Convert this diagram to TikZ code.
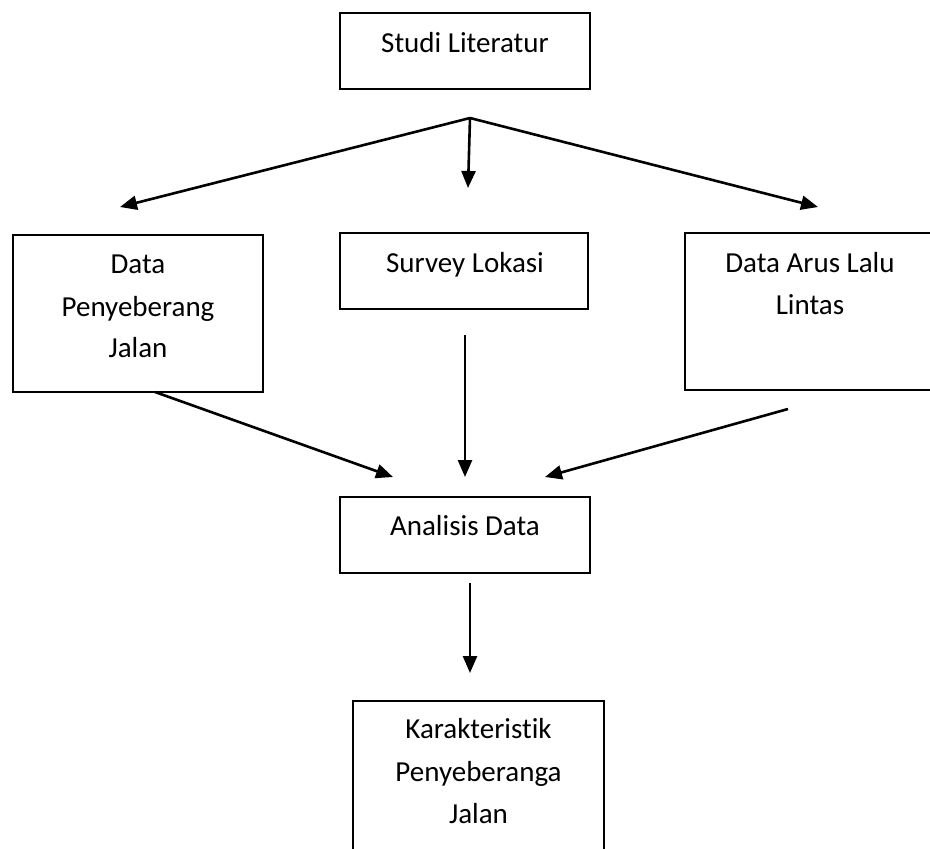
\documentclass[tikz,border=0pt]{standalone}
\usepackage{fontspec}
\setmainfont{Carlito}[Ligatures=NoCommon]
\usetikzlibrary{arrows.meta}
\begin{document}
\begin{tikzpicture}[x=1pt,y=-1pt,
  box/.style={draw=black,line width=1.8pt,rectangle,inner sep=0pt},
  lbl/.style={anchor=base,inner sep=0pt,font=\fontsize{29}{42}\selectfont},
  arr/.style={draw=black,line width=2.6pt,-{Triangle[length=17pt,width=14pt]}}]
\useasboundingbox (0,0) rectangle (930,849);
\fill[white] (0,0) rectangle (930,849);
% boxes
\node[box,minimum width=250pt,minimum height=76pt] (A) at (465,51) {};
\node[box,minimum width=250pt,minimum height=157pt] (B) at (138,313.5) {};
\node[box,minimum width=248pt,minimum height=76pt] (C) at (464,271) {};
\node[box,minimum width=250pt,minimum height=157pt] (D) at (810,311.5) {};
\node[box,minimum width=250pt,minimum height=76pt] (E) at (465,535) {};
\node[box,minimum width=251pt,minimum height=157pt] (F) at (478.5,779.5) {};
% texts
\node[lbl] (A1) at (465,52) {Studi Literatur};
\node[lbl] (B1) at (138,273) {Data};
\node[lbl] (B2) at (138,316) {Penyeberang};
\node[lbl] (B3) at (138,357) {Jalan};
\node[lbl] (C1) at (465,272) {Survey Lokasi};
\node[lbl] (D1) at (810,272) {Data Arus Lalu};
\node[lbl] (D2) at (810,314) {Lintas};
\node[lbl] (E1) at (465,535) {Analisis Data};
\node[lbl] (F1) at (478.5,738) {Karakteristik};
\node[lbl] (F2) at (478.5,781) {Penyeberanga};
\node[lbl] (F3) at (478.5,823) {Jalan};
% connector points
\coordinate (apex) at (470,118);
\coordinate (tB) at (120,207);
\coordinate (tC) at (468,188);
\coordinate (tD) at (818,207);
\coordinate (sB) at (155,392);
\coordinate (sC) at (465,335);
\coordinate (sD) at (788,409);
\coordinate (eB) at (393,477);
\coordinate (eC) at (465,477);
\coordinate (eD) at (545,477);
\coordinate (sE) at (470,583);
\coordinate (eF) at (470,673);
% connectors
\draw[arr] (apex) -- (tB);
\draw[arr] (apex) -- (tC);
\draw[arr] (apex) -- (tD);
\draw[arr] (sB) -- (eB);
\draw[arr] (sC) -- (eC);
\draw[arr] (sD) -- (eD);
\draw[arr] (sE) -- (eF);
\end{tikzpicture}
\end{document}
